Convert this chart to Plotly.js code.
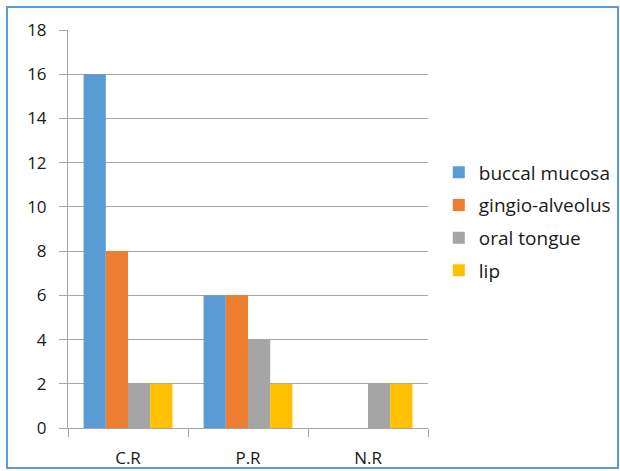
<!DOCTYPE html>
<html><head><meta charset="utf-8">
<script src="https://cdn.plot.ly/plotly-3.0.1.min.js"></script>
<style>
html,body{margin:0;padding:0;background:#fff;}
#wrap{position:relative;width:620px;height:471px;}
#chart{width:620px;height:471px;}
#frame{position:absolute;left:6px;top:6px;width:609px;height:459px;border:2px solid #5b9bd5;pointer-events:none;}
</style></head>
<body>
<div id="wrap"><div id="chart"></div><div id="frame"></div></div>
<script>
const categories = ["C.R", "P.R", "N.R"];
const seriesNames = ["buccal mucosa", "gingio-alveolus", "oral tongue", "lip"];
const buccalMucosa = [16, 6, 0];
const gingioAlveolus = [8, 6, 0];
const oralTongue = [2, 4, 2];
const lip = [2, 2, 2];
const yTicks = [0, 2, 4, 6, 8, 10, 12, 14, 16, 18];

const colors = ["#5b9bd5", "#ed7d31", "#a5a5a5", "#ffc000"];
const values = [buccalMucosa, gingioAlveolus, oralTongue, lip];

const traces = values.map((v, i) => ({
  type: "bar",
  x: categories,
  y: v,
  name: seriesNames[i],
  legendgroup: "g" + i,
  marker: {color: colors[i], line: {width: 0}},
  hoverinfo: "none"
}));

const fam = "Open Sans, Noto Sans, sans-serif";
const txt = "#1a1a1a";

const layout = {
  width: 620, height: 471,
  margin: {l: 68, r: 192, t: 30, b: 43, autoexpand: false},
  paper_bgcolor: "#fff", plot_bgcolor: "#fff",
  barmode: "group",
  bargap: 0.26,
  bargroupgap: 0,
  font: {family: fam, size: 17, color: txt},
  showlegend: true,
  legend: {
    x: 1.03, xanchor: "left", y: 0.69, yanchor: "top",
    font: {family: fam, size: 19, color: txt},
    tracegroupgap: 5,
    itemwidth: 30
  },
  xaxis: {
    type: "category",
    showline: true, linecolor: "#a6a6a6", linewidth: 1,
    ticks: "outside", tickson: "boundaries", ticklen: 8, tickcolor: "#a6a6a6",
    ticklabelstandoff: 15,
    showgrid: false, zeroline: false,
    tickfont: {family: fam, size: 17, color: txt},
    fixedrange: true
  },
  yaxis: {
    range: [0, 18],
    tickvals: yTicks,
    ticktext: yTicks.map(String),
    showline: true, linecolor: "#a6a6a6", linewidth: 1,
    ticks: "outside", ticklen: 8, tickcolor: "#a6a6a6",
    ticklabelstandoff: 9,
    showgrid: true, gridcolor: "#a6a6a6", gridwidth: 1,
    zeroline: false,
    tickfont: {family: fam, size: 17, color: txt},
    fixedrange: true
  }
};

Plotly.newPlot("chart", traces, layout, {displayModeBar: false, staticPlot: true});
</script>
</body></html>
